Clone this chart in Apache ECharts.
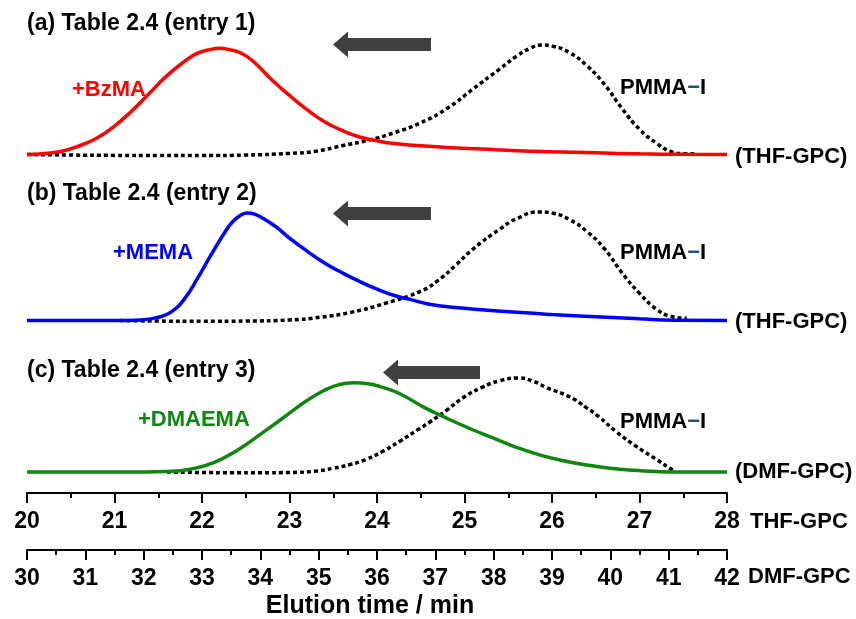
<!DOCTYPE html>
<html><head><meta charset="utf-8">
<script src="https://cdn.jsdelivr.net/npm/echarts@6/dist/echarts.min.js"></script>
<style>html,body{margin:0;padding:0;background:#fff}#c{width:856px;height:619px}</style>
</head><body><div id="c"></div>
<script>
// ---- data (elution time in min, normalised RI intensity) ----
const bzmaTHF = [[20.0,0.0],[20.2,0.01],[20.4,0.03],[20.6,0.08],[20.8,0.15],[21.0,0.26],[21.2,0.40],[21.4,0.56],[21.6,0.72],[21.8,0.85],[21.95,0.925],[22.1,0.96],[22.2,0.97],[22.3,0.96],[22.45,0.925],[22.6,0.84],[22.8,0.68],[23.0,0.54],[23.2,0.41],[23.4,0.30],[23.6,0.22],[23.8,0.16],[24.0,0.125],[24.2,0.10],[24.5,0.08],[24.8,0.065],[25.2,0.05],[25.6,0.035],[26.0,0.025],[26.5,0.015],[27.0,0.006],[27.5,0.002],[28.0,0.0]];
const pmmaA = [[20.0,0.0],[20.5,-0.005],[21.0,-0.008],[21.5,-0.01],[22.0,-0.01],[22.5,-0.005],[23.0,0.01],[23.3,0.03],[23.6,0.08],[23.9,0.13],[24.2,0.2],[24.5,0.29],[24.8,0.42],[25.1,0.6],[25.4,0.78],[25.6,0.9],[25.75,0.97],[25.88,1.0],[26.0,0.99],[26.2,0.93],[26.4,0.81],[26.6,0.64],[26.8,0.42],[27.0,0.23],[27.2,0.1],[27.35,0.03],[27.5,0.008],[27.66,0.005]];
const memaTHF = [[20,0],[21.0,0],[21.3,0.005],[21.5,0.03],[21.65,0.08],[21.8,0.2],[21.95,0.39],[22.1,0.6],[22.25,0.8],[22.35,0.91],[22.45,0.975],[22.52,0.99],[22.6,0.98],[22.7,0.94],[22.85,0.86],[23.0,0.76],[23.2,0.64],[23.4,0.53],[23.6,0.44],[23.8,0.36],[24.0,0.29],[24.2,0.23],[24.4,0.19],[24.6,0.15],[24.9,0.12],[25.2,0.10],[25.6,0.075],[26.0,0.055],[26.5,0.035],[27.0,0.015],[27.4,0.003],[28,0]];
const pmmaB = [[21.06,0],[21.5,-0.005],[22.0,-0.008],[22.5,-0.005],[23.0,0.005],[23.35,0.03],[23.7,0.075],[24.1,0.16],[24.5,0.27],[24.7,0.37],[24.9,0.51],[25.1,0.66],[25.4,0.84],[25.6,0.94],[25.85,1.0],[26.0,0.99],[26.2,0.93],[26.4,0.82],[26.6,0.66],[26.8,0.44],[27.0,0.25],[27.2,0.1],[27.35,0.04],[27.54,0.02]];
const dmaemaDMF = [[30,0],[32.0,0],[32.4,0.005],[32.8,0.03],[33.2,0.1],[33.6,0.23],[34.0,0.4],[34.4,0.58],[34.8,0.76],[35.1,0.87],[35.35,0.93],[35.6,0.95],[35.85,0.94],[36.1,0.9],[36.4,0.83],[36.8,0.69],[37.2,0.57],[37.6,0.46],[38.0,0.36],[38.4,0.26],[38.8,0.18],[39.2,0.12],[39.6,0.075],[40.0,0.04],[40.4,0.018],[40.8,0.005],[41.2,0],[42,0]];
const pmmaC = [[32.4,0],[33.0,-0.005],[33.5,-0.008],[34.0,-0.008],[34.5,-0.005],[34.97,0.01],[35.25,0.04],[35.54,0.08],[35.8,0.13],[36.1,0.22],[36.4,0.33],[36.7,0.45],[36.9,0.53],[37.2,0.66],[37.5,0.8],[37.8,0.9],[38.1,0.97],[38.42,1.0],[38.7,0.96],[38.9,0.9],[39.3,0.8],[39.6,0.68],[39.8,0.59],[40.1,0.43],[40.45,0.27],[40.8,0.13],[41.07,0.02],[41.1,0.01]];
const panelTitles = ['(a) Table 2.4 (entry 1)','(b) Table 2.4 (entry 2)','(c) Table 2.4 (entry 3)'];
const productLabels = ['+BzMA','+MEMA','+DMAEMA'];
const gpcLabels = ['(THF-GPC)','(THF-GPC)','(DMF-GPC)'];
const precursorLabel = 'PMMA{d|\u2212}I';
const thfRange = [20, 28];
const dmfRange = [30, 42];
const axisNames = ['THF-GPC','DMF-GPC'];
const xTitle = 'Elution time / min';

const colors = ['#ff0000','#0000ff','#0e870e'];
const FF = '"Liberation Sans", Arial, sans-serif';
const L = 27, W = 700;

const grids = [
  {left:L, width:W, top:45, height:120.45},
  {left:L, width:W, top:212, height:119.35},
  {left:L, width:W, top:378, height:103.4},
  {left:L, width:W, top:443, height:50},
  {left:L, width:W, top:500, height:50}
];
function hiddenX(i, r){return {gridIndex:i, type:'value', min:r[0], max:r[1], show:false};}
function hiddenY(i){return {gridIndex:i, type:'value', min:-0.1, max:1, show:false};}
function visX(i, r){
  return {gridIndex:i, type:'value', min:r[0], max:r[1], interval:1, position:'bottom',
    axisLine:{show:true, lineStyle:{color:'#000', width:2}},
    axisTick:{show:true, length:10, lineStyle:{color:'#000', width:2}},
    minorTick:{show:true, splitNumber:2, length:5, lineStyle:{color:'#000', width:2}},
    splitLine:{show:false}, minorSplitLine:{show:false},
    axisLabel:{margin:17, fontSize:23, fontWeight:'bold', color:'#000', fontFamily:FF}};
}
function lineS(ax, data, color, dotted, z){
  return {type:'line', xAxisIndex:ax, yAxisIndex:ax, data:data, showSymbol:false, smooth:0.5,
    clip:false, z:z, silent:true,
    lineStyle:{color:color, width:3.5, type: dotted ? [4,3] : 'solid'}};
}
function arrow(tx, cy, right){
  const hb = tx + 15, hh = 13, bh = 6.5;
  return {type:'polygon', silent:true, z:10,
    shape:{points:[[tx,cy],[hb,cy-hh],[hb,cy-bh],[right,cy-bh],[right,cy+bh],[hb,cy+bh],[hb,cy+hh]]},
    style:{fill:'#404040'}};
}
function txt(s, x, y, size, color, align, rich){
  const st = {text:s, x:x, y:y, fill:color, fontSize:size, fontWeight:'bold', fontFamily:FF,
    align:align||'left', verticalAlign:'middle'};
  if (rich) st.rich = rich;
  return {type:'text', silent:true, z:20, style:st};
}
const richD = {d:{fill:'#1f4e79', fontSize:22, fontWeight:'bold', fontFamily:FF}};

const chart = echarts.init(document.getElementById('c'), null, {renderer:'canvas'});
chart.setOption({
  animation:false,
  backgroundColor:'#fff',
  grid: grids,
  xAxis:[hiddenX(0,thfRange), hiddenX(1,thfRange), hiddenX(2,dmfRange), visX(3,thfRange), visX(4,dmfRange)],
  yAxis:[hiddenY(0), hiddenY(1), hiddenY(2),
    {gridIndex:3, type:'value', show:false}, {gridIndex:4, type:'value', show:false}],
  series:[
    lineS(0, pmmaA, '#000', true, 2),
    lineS(0, bzmaTHF, colors[0], false, 3),
    lineS(1, pmmaB, '#000', true, 2),
    lineS(1, memaTHF, colors[1], false, 3),
    lineS(2, pmmaC, '#000', true, 2),
    lineS(2, dmaemaDMF, colors[2], false, 3)
  ],
  graphic:[
    arrow(333, 44.5, 431), arrow(333, 213.5, 431), arrow(383, 372.5, 480),
    txt(panelTitles[0], 27, 24, 23, '#000'),
    txt(panelTitles[1], 27, 194, 23, '#000'),
    txt(panelTitles[2], 27, 371, 23, '#000'),
    txt(productLabels[0], 72, 90, 22, colors[0]),
    txt(productLabels[1], 113, 253, 22, colors[1]),
    txt(productLabels[2], 138, 420, 22, colors[2]),
    txt(precursorLabel, 620, 88, 22, '#000', 'left', richD),
    txt(precursorLabel, 620, 253, 22, '#000', 'left', richD),
    txt(precursorLabel, 620, 422, 22, '#000', 'left', richD),
    txt(gpcLabels[0], 735, 157, 22, '#000'),
    txt(gpcLabels[1], 735, 322, 22, '#000'),
    txt(gpcLabels[2], 735, 472, 22, '#000'),
    txt(axisNames[0], 750, 522, 22, '#000'),
    txt(axisNames[1], 748, 577, 22, '#000'),
    txt(xTitle, 370, 606, 25, '#000', 'center')
  ]
});
</script></body></html>
